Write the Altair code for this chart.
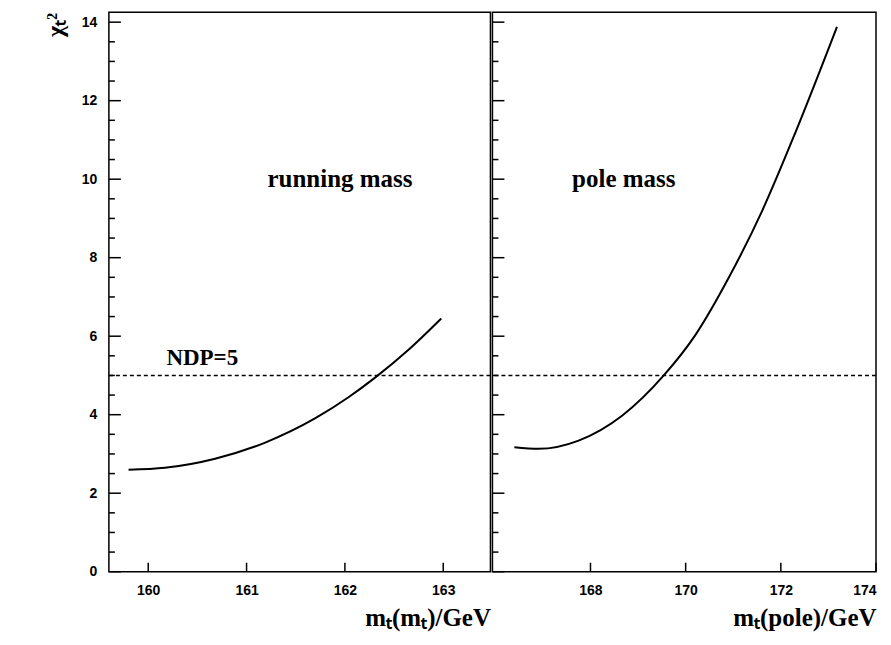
import altair as alt
import pandas as pd

run_x = [159.80, 160.17, 160.68, 161.19, 161.70, 162.04, 162.31, 162.65, 162.98]
run_y = [2.60, 2.65, 2.88, 3.29, 3.91, 4.45, 4.95, 5.66, 6.45]
pole_x = [166.40, 166.91, 167.75, 168.67, 169.54, 170.21, 170.91, 171.61, 172.31, 173.18]
pole_y = [3.17, 3.13, 3.34, 3.98, 5.0, 6.04, 7.5, 9.2, 11.2, 13.88]
ndp = 5
y_minor = [i * 0.5 for i in range(0, 29)]

ser = "Liberation Serif"
sans = "Liberation Sans"
H = 560

yscale = alt.Scale(domain=[0, 14.25], nice=False)


def panel(xv, yv, dom, ticks, xtitle, label, lx, w, show_y):
    df = pd.DataFrame({"x": xv, "y": yv})
    xs = alt.Scale(domain=dom, nice=False)
    xax = alt.Axis(values=ticks, format="d", title=xtitle, grid=False, ticks=False, domain=False,
                   titleAnchor="end", titleFont=ser, titleFontSize=25, titleFontWeight="bold",
                   labelFont=sans, labelFontWeight="bold", labelFontSize=14, labelPadding=12,
                   titlePadding=8)
    if show_y:
        yenc = alt.Y("y:Q", scale=yscale, axis=alt.Axis(
            values=list(range(0, 15, 2)), format="d", title="χₜ²", titleAngle=270,
            titleAnchor="end", titleFont=ser, titleFontSize=24, titleFontWeight="bold",
            titlePadding=14, ticks=False, domain=False,
            labelFont=sans, labelFontWeight="bold", labelFontSize=14, labelPadding=12, grid=False))
    else:
        yenc = alt.Y("y:Q", scale=yscale, axis=None)
    line = alt.Chart(df).mark_line(color="black", strokeWidth=2, interpolate="monotone").encode(
        x=alt.X("x:Q", scale=xs, axis=xax), y=yenc)
    rule = alt.Chart(pd.DataFrame({"y": [ndp]})).mark_rule(
        color="black", strokeDash=[4, 3], strokeWidth=1.5).encode(y=alt.Y("y:Q", scale=yscale))
    tk = pd.DataFrame({"y": y_minor, "major": [i % 4 == 0 for i in range(len(y_minor))]})
    ytick_min = alt.Chart(tk[~tk.major]).mark_rule(color="black", strokeWidth=1.5).encode(
        y=alt.Y("y:Q", scale=yscale), x=alt.value(0), x2=alt.value(6))
    ytick_maj = alt.Chart(tk[tk.major]).mark_rule(color="black", strokeWidth=1.5).encode(
        y=alt.Y("y:Q", scale=yscale), x=alt.value(0), x2=alt.value(12))
    xtick = alt.Chart(pd.DataFrame({"x": ticks})).mark_rule(color="black", strokeWidth=1.5).encode(
        x=alt.X("x:Q", scale=xs), y=alt.value(H), y2=alt.value(H - 9))
    txt = alt.Chart(pd.DataFrame({"t": [label], "x": [lx], "y": [10]})).mark_text(
        font=ser, fontSize=25, fontWeight="bold", color="black").encode(
        x=alt.X("x:Q", scale=xs), y=alt.Y("y:Q", scale=yscale), text="t:N")
    layers = [line, rule, ytick_min, ytick_maj, xtick, txt]
    if show_y:
        layers.append(alt.Chart(pd.DataFrame({"t": ["NDP=5"], "x": [160.55], "y": [5.45]})).mark_text(
            font=ser, fontSize=23, fontWeight="bold", color="black").encode(
            x=alt.X("x:Q", scale=xs), y=alt.Y("y:Q", scale=yscale), text="t:N"))
    return alt.layer(*layers).properties(width=w, height=H)


left = panel(run_x, run_y, [159.6, 163.48], [160, 161, 162, 163], "mₜ(mₜ)/GeV",
             "running mass", 161.95, 382, True)
right = panel(pole_x, pole_y, [165.94, 174.0], [168, 170, 172, 174], "mₜ(pole)/GeV",
              "pole mass", 168.7, 384, False)

chart = alt.hconcat(left, right, spacing=-6, background="white",
                    padding={"left": 34, "top": 3, "right": 5, "bottom": 5}
                    ).configure_view(stroke="black", strokeWidth=1.5).configure_axis(
    domainColor="black", tickColor="black", labelColor="black", titleColor="black")
chart.save("out.html", embed_options={"renderer": "svg", "actions": False})
